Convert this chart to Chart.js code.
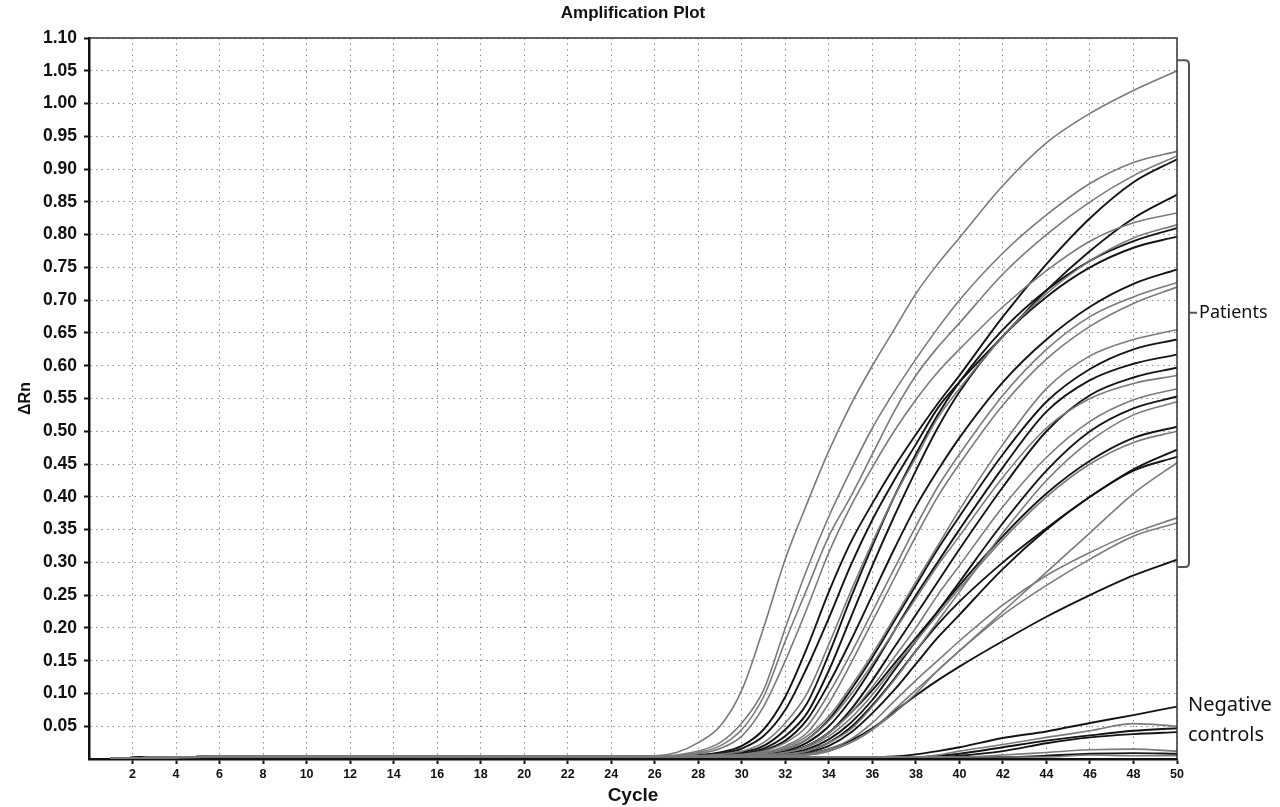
<!DOCTYPE html>
<html><head><meta charset="utf-8">
<script src="https://cdn.jsdelivr.net/npm/chart.js@4.4.1/dist/chart.umd.min.js"></script>
<style>html,body{margin:0;padding:0;background:#fff;}#wrap{position:relative;width:1280px;height:807px;}</style>
</head><body><div id="wrap"><canvas id="c" width="1280" height="807"></canvas></div>
<script>
// Cycle grid at which the curves were read
const cycles = [1,7,26,27,28,29,30,31,32,33,34,35,36,37,38,39,40,42,44,46,48,50];
const xTickValues = [2,4,6,8,10,12,14,16,18,20,22,24,26,28,30,32,34,36,38,40,42,44,46,48,50];
const yTickValues = [0.05,0.10,0.15,0.20,0.25,0.30,0.35,0.40,0.45,0.50,0.55,0.60,0.65,0.70,0.75,0.80,0.85,0.90,0.95,1.00,1.05,1.10];

// Patient curves (ΔRn at each cycle of the grid)
const pA  = [0.001,0.004,0.005,0.010,0.025,0.050,0.105,0.200,0.305,0.390,0.470,0.540,0.600,0.655,0.710,0.755,0.795,0.875,0.940,0.985,1.020,1.050];
const pB  = [0.001,0.004,0.004,0.006,0.012,0.025,0.055,0.105,0.200,0.290,0.370,0.440,0.505,0.560,0.610,0.657,0.700,0.772,0.830,0.878,0.910,0.927];
const pC  = [0.001,0.004,0.004,0.005,0.010,0.020,0.045,0.095,0.180,0.260,0.340,0.400,0.465,0.530,0.585,0.628,0.665,0.740,0.800,0.850,0.890,0.920];
const pD  = [0.001,0.004,0.004,0.005,0.008,0.016,0.035,0.080,0.150,0.230,0.315,0.385,0.445,0.500,0.548,0.590,0.625,0.690,0.745,0.790,0.818,0.833];
const pE  = [0.001,0.004,0.004,0.004,0.006,0.010,0.020,0.045,0.095,0.170,0.255,0.330,0.390,0.445,0.495,0.542,0.585,0.675,0.755,0.825,0.880,0.915];
const pF  = [0.001,0.004,0.004,0.004,0.005,0.008,0.016,0.035,0.075,0.140,0.215,0.295,0.365,0.425,0.480,0.535,0.575,0.645,0.715,0.775,0.825,0.861];
const pG  = [0.001,0.004,0.004,0.004,0.005,0.007,0.012,0.025,0.055,0.100,0.175,0.255,0.330,0.400,0.460,0.520,0.565,0.645,0.710,0.760,0.795,0.815];
const pH  = [0.001,0.004,0.004,0.004,0.004,0.006,0.010,0.020,0.045,0.085,0.160,0.245,0.325,0.400,0.465,0.525,0.575,0.655,0.715,0.760,0.790,0.810];
const pI  = [0.001,0.004,0.004,0.004,0.004,0.005,0.008,0.016,0.035,0.070,0.135,0.215,0.295,0.370,0.440,0.505,0.560,0.645,0.705,0.750,0.780,0.797];
const pJ  = [0.001,0.004,0.004,0.004,0.004,0.005,0.007,0.013,0.028,0.060,0.115,0.180,0.250,0.320,0.385,0.440,0.490,0.575,0.640,0.690,0.725,0.747];
const pK  = [0.001,0.004,0.004,0.004,0.004,0.005,0.007,0.012,0.025,0.050,0.100,0.160,0.225,0.290,0.355,0.415,0.465,0.555,0.625,0.675,0.705,0.727];
const pL  = [0.001,0.004,0.004,0.004,0.004,0.005,0.006,0.010,0.020,0.040,0.085,0.145,0.210,0.275,0.340,0.400,0.450,0.540,0.610,0.660,0.695,0.720];
const pM  = [0.001,0.004,0.004,0.004,0.004,0.004,0.006,0.010,0.018,0.035,0.065,0.110,0.160,0.215,0.270,0.325,0.380,0.480,0.565,0.615,0.640,0.655];
const pN  = [0.001,0.004,0.004,0.004,0.004,0.004,0.005,0.008,0.015,0.030,0.060,0.105,0.155,0.210,0.265,0.320,0.370,0.465,0.545,0.595,0.625,0.640];
const pO  = [0.001,0.004,0.004,0.004,0.004,0.004,0.005,0.007,0.012,0.025,0.050,0.090,0.140,0.195,0.250,0.300,0.350,0.445,0.530,0.578,0.603,0.617];
const pP  = [0.001,0.004,0.004,0.004,0.004,0.004,0.004,0.006,0.010,0.020,0.040,0.075,0.120,0.170,0.220,0.270,0.320,0.415,0.500,0.555,0.582,0.597];
const pQ  = [0.001,0.004,0.004,0.004,0.004,0.004,0.004,0.006,0.010,0.020,0.040,0.070,0.110,0.155,0.200,0.250,0.295,0.385,0.460,0.515,0.548,0.565];
const pR  = [0.001,0.004,0.004,0.004,0.004,0.004,0.004,0.005,0.008,0.015,0.030,0.055,0.090,0.135,0.180,0.225,0.270,0.360,0.440,0.500,0.535,0.553];
const pS  = [0.001,0.004,0.004,0.004,0.004,0.004,0.004,0.004,0.007,0.012,0.025,0.045,0.080,0.120,0.165,0.210,0.255,0.345,0.425,0.485,0.525,0.545];
const pT  = [0.001,0.004,0.004,0.004,0.004,0.004,0.004,0.006,0.010,0.020,0.040,0.070,0.105,0.145,0.185,0.225,0.265,0.340,0.405,0.455,0.490,0.507];
const pU  = [0.001,0.004,0.004,0.004,0.004,0.004,0.004,0.006,0.010,0.018,0.035,0.062,0.098,0.140,0.180,0.220,0.260,0.335,0.400,0.450,0.483,0.500];
const pW  = [0.001,0.004,0.004,0.004,0.004,0.004,0.004,0.004,0.006,0.012,0.025,0.048,0.082,0.122,0.165,0.205,0.240,0.300,0.352,0.400,0.442,0.472];
const pX  = [0.001,0.004,0.004,0.004,0.004,0.004,0.004,0.004,0.005,0.006,0.012,0.025,0.045,0.070,0.100,0.135,0.165,0.225,0.285,0.345,0.405,0.452];
const pY  = [0.001,0.004,0.004,0.004,0.004,0.004,0.004,0.004,0.006,0.010,0.020,0.040,0.070,0.105,0.145,0.185,0.220,0.290,0.350,0.400,0.440,0.461];
const pV1 = [0.001,0.004,0.004,0.004,0.004,0.004,0.004,0.004,0.005,0.008,0.015,0.030,0.055,0.088,0.120,0.150,0.180,0.235,0.280,0.315,0.345,0.368];
const pV2 = [0.001,0.004,0.004,0.004,0.004,0.004,0.004,0.004,0.004,0.006,0.012,0.025,0.045,0.075,0.105,0.135,0.165,0.220,0.265,0.305,0.340,0.360];
const pZ  = [0.001,0.004,0.004,0.004,0.004,0.004,0.004,0.004,0.005,0.008,0.015,0.028,0.047,0.072,0.097,0.120,0.141,0.180,0.217,0.250,0.280,0.304];
const pAA = [0.001,0.004,0.004,0.004,0.004,0.004,0.005,0.008,0.015,0.030,0.058,0.098,0.145,0.195,0.245,0.295,0.340,0.430,0.505,0.550,0.573,0.585];

// Negative controls
const n1 = [0.001,0.003,0.003,0.003,0.003,0.003,0.003,0.003,0.003,0.003,0.003,0.003,0.003,0.004,0.007,0.012,0.018,0.032,0.042,0.055,0.067,0.080];
const n2 = [0.001,0.003,0.003,0.003,0.003,0.003,0.003,0.003,0.003,0.003,0.003,0.003,0.003,0.003,0.003,0.006,0.012,0.022,0.033,0.043,0.054,0.050];
const n3 = [0.001,0.003,0.003,0.003,0.003,0.003,0.003,0.003,0.003,0.003,0.003,0.003,0.003,0.003,0.003,0.005,0.008,0.018,0.028,0.036,0.043,0.047];
const n4 = [0.001,0.003,0.003,0.003,0.003,0.003,0.003,0.003,0.003,0.003,0.003,0.003,0.003,0.003,0.003,0.003,0.005,0.012,0.024,0.033,0.038,0.041];
const n5 = [0.001,0.003,0.003,0.003,0.003,0.003,0.003,0.003,0.003,0.003,0.003,0.003,0.003,0.003,0.003,0.003,0.003,0.006,0.010,0.014,0.015,0.012];
const n6 = [0.001,0.003,0.003,0.003,0.003,0.003,0.003,0.003,0.003,0.003,0.003,0.003,0.003,0.003,0.003,0.003,0.003,0.003,0.005,0.008,0.009,0.008];
const n7 = [0.001,0.003,0.003,0.003,0.003,0.003,0.003,0.003,0.003,0.003,0.003,0.003,0.003,0.003,0.003,0.003,0.003,0.003,0.003,0.006,0.005,0.005];

const curves = [pA,pB,pC,pD,pE,pF,pG,pH,pI,pJ,pK,pL,pM,pN,pO,pP,pQ,pR,pS,pT,pU,pW,pX,pY,pV1,pV2,pZ,pAA,n1,n2,n3,n4,n5,n6,n7];
const tones  = ['g','g','g','g','k','k','g','k','k','k','g','g','g','k','k','k','g','k','g','k','g','k','g','k','g','g','k','g','k','g','k','k','g','k','g'];

const BLACK = '#141414', GRAY = '#7a7a7a';
const datasets = curves.map((arr, i) => ({
  data: cycles.map((c, j) => ({x: c, y: arr[j]})),
  borderColor: tones[i] === 'k' ? BLACK : GRAY,
  borderWidth: tones[i] === 'k' ? 1.9 : 1.6,
  pointRadius: 0,
  fill: false,
  cubicInterpolationMode: 'monotone'
}));
datasets.sort((a, b) => (a.borderColor === GRAY ? 0 : 1) - (b.borderColor === GRAY ? 0 : 1));

const FONT = '"Liberation Sans", Arial, sans-serif';

const decor = {
  id: 'decor',
  afterDraw(chart) {
    const {ctx, chartArea: a, scales: {y}} = chart;
    ctx.save();
    ctx.setLineDash([]);
    ctx.strokeStyle = '#333'; ctx.lineWidth = 1.5;
    ctx.beginPath(); ctx.moveTo(a.left, a.top); ctx.lineTo(a.right, a.top); ctx.lineTo(a.right, a.bottom); ctx.stroke();
    // title
    ctx.fillStyle = '#111'; ctx.textAlign = 'center'; ctx.textBaseline = 'middle';
    ctx.font = 'bold 17px ' + FONT;
    ctx.fillText('Amplification Plot', (a.left + a.right) / 2, 13);
    // bracket
    const yt = y.getPixelForValue(1.066), yb = y.getPixelForValue(0.293), ym = y.getPixelForValue(0.681);
    const bx = a.right + 12;
    ctx.strokeStyle = '#555'; ctx.lineWidth = 2;
    ctx.beginPath();
    ctx.moveTo(a.right, yt); ctx.lineTo(bx - 4, yt); ctx.quadraticCurveTo(bx, yt, bx, yt + 4);
    ctx.lineTo(bx, yb - 4); ctx.quadraticCurveTo(bx, yb, bx - 4, yb); ctx.lineTo(a.right, yb);
    ctx.moveTo(bx, ym); ctx.lineTo(bx + 8, ym);
    ctx.stroke();
    ctx.fillStyle = '#111'; ctx.textBaseline = 'middle'; ctx.textAlign = 'left';
    ctx.font = '18px "Noto Sans", sans-serif';
    ctx.fillText('Patients', bx + 10, ym);
    ctx.font = '20px "Noto Sans", sans-serif';
    ctx.fillText('Negative', a.right + 11, y.getPixelForValue(0.082));
    ctx.fillText('controls', a.right + 11, y.getPixelForValue(0.036));
    ctx.restore();
  }
};

new Chart(document.getElementById('c'), {
  type: 'line',
  data: {datasets},
  plugins: [decor],
  options: {
    responsive: false, animation: false, devicePixelRatio: 1,
    layout: {padding: {left: 0, right: 103, top: 38, bottom: 0}},
    plugins: {legend: {display: false}, tooltip: {enabled: false}, title: {display: false}},
    scales: {
      x: {
        type: 'linear', min: 0, max: 50,
        afterBuildTicks: s => { s.ticks = xTickValues.map(v => ({value: v})); },
        afterFit: s => { s.height = 48; },
        ticks: {autoSkip: false, maxRotation: 0, padding: 3, color: '#111',
          font: {family: FONT, size: 12.5, weight: 'bold'}, callback: v => String(v)},
        grid: {color: '#8c8c8c', lineWidth: 1, tickLength: 5, tickColor: '#111', tickWidth: 2},
        border: {display: true, color: '#111', width: 2.5, dash: [1.5, 4]},
        title: {display: true, text: 'Cycle', color: '#111',
          font: {family: FONT, size: 19, weight: 'bold'}, padding: {top: 0, bottom: 0}}
      },
      y: {
        type: 'linear', min: 0, max: 1.1,
        afterBuildTicks: s => { s.ticks = yTickValues.map(v => ({value: v})); },
        afterFit: s => { s.width = 89; },
        ticks: {padding: 7, color: '#111', font: {family: FONT, size: 17.5, weight: 'bold'},
          callback: v => Number(v).toFixed(2)},
        grid: {color: '#8c8c8c', lineWidth: 1, tickLength: 5, tickColor: '#111', tickWidth: 2},
        border: {display: true, color: '#111', width: 2.5, dash: [1.5, 4]},
        title: {display: true, text: 'ΔRn', color: '#111',
          font: {family: FONT, size: 16, weight: 'bold'}, padding: {top: 16, bottom: 0}}
      }
    }
  }
});
</script></body></html>
